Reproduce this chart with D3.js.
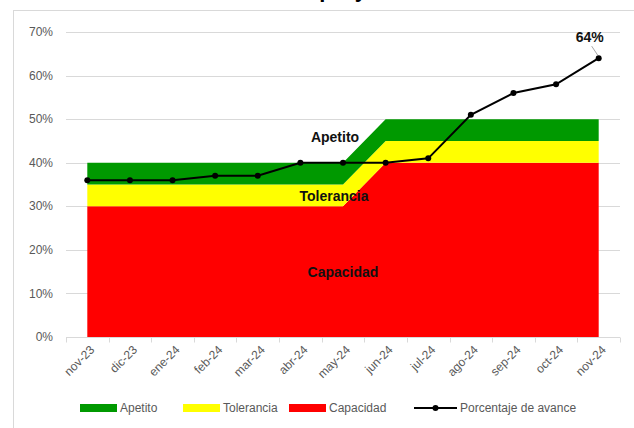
<!DOCTYPE html>
<html>
<head>
<meta charset="utf-8">
<script src="https://cdn.jsdelivr.net/npm/d3@7"></script>
<style>
  body { margin: 0; background: #fff; }
  svg { display: block; font-family: "Liberation Sans", Arial, sans-serif; }
</style>
</head>
<body>
<div id="chart"></div>
<script>
// data
var months = ["nov-23", "dic-23", "ene-24", "feb-24", "mar-24", "abr-24", "may-24",
              "jun-24", "jul-24", "ago-24", "sep-24", "oct-24", "nov-24"];
var capacidad  = [30, 30, 30, 30, 30, 30, 30, 40, 40, 40, 40, 40, 40];
var tolerancia = [5, 5, 5, 5, 5, 5, 5, 5, 5, 5, 5, 5, 5];
var apetito    = [5, 5, 5, 5, 5, 5, 5, 5, 5, 5, 5, 5, 5];
var avance     = [36, 36, 36, 37, 37, 40, 40, 40, 41, 51, 56, 58, 64];
var yTicks     = [0, 10, 20, 30, 40, 50, 60, 70];

var W = 634, H = 428;
var margin = { top: 32, right: 14, bottom: 91, left: 66 };
var width = W - margin.left - margin.right,
    height = H - margin.top - margin.bottom;

var svg = d3.select("#chart").append("svg")
    .attr("width", W)
    .attr("height", H);

// chart frame
svg.append("rect")
    .attr("x", 13.5).attr("y", 10.5)
    .attr("width", W).attr("height", H)
    .attr("fill", "none")
    .attr("stroke", "#d9d9d9");

// title (only its descenders show at the top edge)
svg.append("text")
    .attr("x", 305).attr("y", -3)
    .attr("text-anchor", "middle")
    .style("font-size", "22px")
    .style("font-weight", "bold")
    .text("Avance del proyecto");

var g = svg.append("g")
    .attr("transform", "translate(" + margin.left + "," + margin.top + ")");

var x = d3.scaleBand().domain(months).range([0, width]);
var y = d3.scaleLinear().domain([0, 70]).range([height, 0]);
var cx = function (i) { return x(months[i]) + x.bandwidth() / 2; };

// gridlines
g.append("g").attr("class", "gridy")
    .selectAll("line").data(yTicks.slice(1)).join("line")
    .attr("x1", 0).attr("x2", width)
    .attr("y1", function (d) { return Math.round(y(d)) + 0.5; })
    .attr("y2", function (d) { return Math.round(y(d)) + 0.5; })
    .attr("stroke", "#d9d9d9");

// stacked bands
var rows = months.map(function (m, i) {
    return { i: i, cap: capacidad[i], tol: tolerancia[i], ape: apetito[i] };
});
var stack = d3.stack().keys(["cap", "tol", "ape"])(rows);
var colors = { cap: "#ff0000", tol: "#ffff00", ape: "#009900" };

var area = d3.area()
    .x(function (d) { return cx(d.data.i); })
    .y0(function (d) { return y(d[0]); })
    .y1(function (d) { return y(d[1]); });

g.selectAll(".bands").data(stack).join("path")
    .attr("class", "bands")
    .attr("fill", function (d) { return colors[d.key]; })
    .attr("d", area);

// y axis labels
g.append("g").selectAll("text").data(yTicks).join("text")
    .attr("x", -13)
    .attr("y", function (d) { return y(d); })
    .attr("dy", "0.35em")
    .attr("text-anchor", "end")
    .attr("fill", "#595959")
    .style("font-size", "12px")
    .text(function (d) { return d + "%"; });

// x axis
var xAxis = g.append("g")
    .attr("transform", "translate(0," + (Math.round(height) + 0.5) + ")");
xAxis.append("line")
    .attr("x1", 0).attr("x2", width)
    .attr("stroke", "#d9d9d9");
xAxis.selectAll(".tick").data(d3.range(months.length + 1)).join("line")
    .attr("x1", function (i) { return Math.round(i * x.step()) + 0.5; })
    .attr("x2", function (i) { return Math.round(i * x.step()) + 0.5; })
    .attr("y1", 0).attr("y2", 5)
    .attr("stroke", "#d9d9d9");
xAxis.selectAll(".lbl").data(months).join("text")
    .attr("transform", function (d, i) {
        return "translate(" + (cx(i) + 5) + ",10) rotate(-45)";
    })
    .attr("text-anchor", "end")
    .attr("dy", "0.35em")
    .attr("fill", "#595959")
    .style("font-size", "12px")
    .text(function (d) { return d; });

// avance line
var line = d3.line()
    .x(function (d, i) { return cx(i); })
    .y(function (d) { return y(d); });

g.append("path")
    .datum(avance)
    .attr("fill", "none")
    .attr("stroke", "#000")
    .attr("stroke-width", 2)
    .attr("d", line);

g.selectAll(".dot").data(avance).join("circle")
    .attr("cx", function (d, i) { return cx(i); })
    .attr("cy", function (d) { return y(d); })
    .attr("r", 3)
    .attr("fill", "#000");

// last value label with leader
var last = avance.length - 1;
g.append("line")
    .attr("x1", cx(last) - 7).attr("y1", y(avance[last]) - 12)
    .attr("x2", cx(last) - 1).attr("y2", y(avance[last]) - 3)
    .attr("stroke", "#a6a6a6");
g.append("text")
    .attr("x", cx(last) - 9)
    .attr("y", y(avance[last]) - 16)
    .attr("text-anchor", "middle")
    .style("font-size", "14px")
    .style("font-weight", "bold")
    .attr("fill", "#111")
    .text(avance[last] + "%");

// band labels
var bandLabels = [
    { t: "Apetito", i: 6, v: 45.8, dx: -8 },
    { t: "Tolerancia", i: 6, v: 32.3, dx: -9 },
    { t: "Capacidad", i: 6, v: 15, dx: 0 }
];
g.selectAll(".blbl").data(bandLabels).join("text")
    .attr("x", function (d) { return cx(d.i) + d.dx; })
    .attr("y", function (d) { return y(d.v); })
    .attr("dy", "0.35em")
    .attr("text-anchor", "middle")
    .style("font-size", "14px")
    .style("font-weight", "bold")
    .attr("fill", "#111")
    .text(function (d) { return d.t; });

// legend
var legend = svg.append("g").attr("transform", "translate(0,408)");
var legItems = [
    { t: "Apetito", c: colors.ape, x: 80 },
    { t: "Tolerancia", c: colors.tol, x: 183 },
    { t: "Capacidad", c: colors.cap, x: 289 }
];
legItems.forEach(function (d) {
    legend.append("rect")
        .attr("x", d.x).attr("y", -4)
        .attr("width", 37).attr("height", 8)
        .attr("fill", d.c);
    legend.append("text")
        .attr("x", d.x + 40).attr("y", 0)
        .attr("dy", "0.35em")
        .attr("fill", "#595959")
        .style("font-size", "12px")
        .text(d.t);
});
legend.append("line")
    .attr("x1", 414).attr("x2", 457)
    .attr("y1", 0).attr("y2", 0)
    .attr("stroke", "#000").attr("stroke-width", 2);
legend.append("circle")
    .attr("cx", 435.5).attr("cy", 0).attr("r", 3).attr("fill", "#000");
legend.append("text")
    .attr("x", 460).attr("y", 0)
    .attr("dy", "0.35em")
    .attr("fill", "#595959")
    .style("font-size", "12px")
    .text("Porcentaje de avance");
</script>
</body>
</html>
